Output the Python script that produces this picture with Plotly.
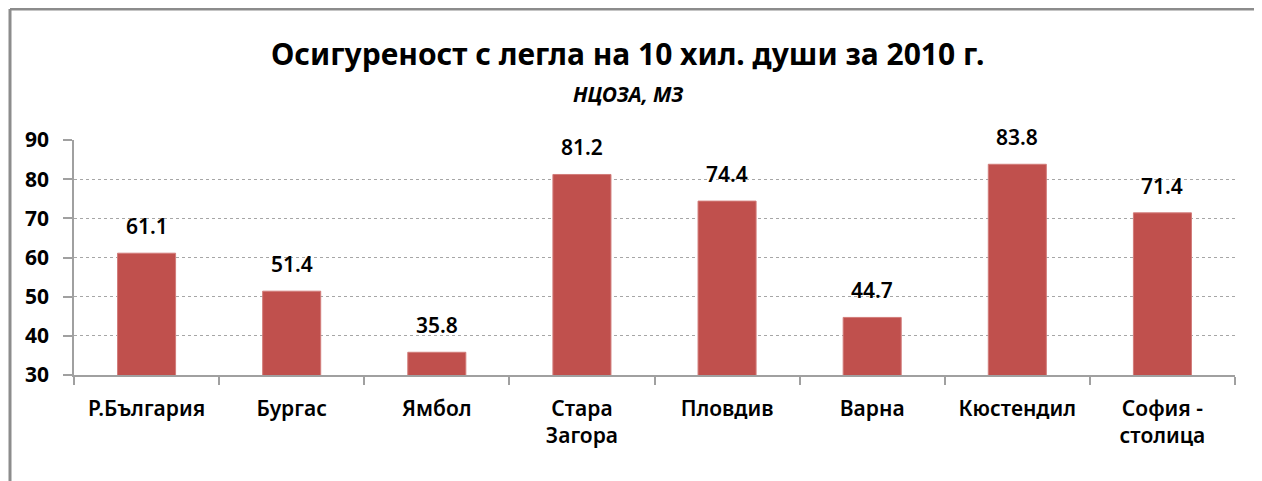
import plotly.graph_objects as go

categories = ["Р.България", "Бургас", "Ямбол", "Стара<br>Загора", "Пловдив", "Варна", "Кюстендил", "София -<br>столица"]
values = [61.1, 51.4, 35.8, 81.2, 74.4, 44.7, 83.8, 71.4]
y_ticks = [30, 40, 50, 60, 70, 80, 90]
title_text = "Осигуреност с легла на 10 хил. души за 2010 г."
subtitle_text = "НЦОЗА, МЗ"

# page is rendered with an 8px body margin; positions below are in page px
OFF = 8
W, H = 1262, 481
L, R, T, B = 74 - OFF, 27 + OFF, 140 - OFF, 106 + OFF
pw, ph = W - L - R, H - T - B

FONT = "Noto Sans"

fig = go.Figure(go.Bar(
    x=categories, y=values,
    marker=dict(color="#C0504D", line=dict(color="#D27C7A", width=1)),
    width=0.4,
    cliponaxis=False,
))

fx = lambda px: (px - OFF - L) / pw
fy = lambda py: 1 - (py - OFF - T) / ph

annotations = [
    dict(text="<b>" + title_text + "</b>", xref="paper", yref="paper", x=fx(627), y=fy(53),
         showarrow=False, xanchor="center", yanchor="middle",
         font=dict(family=FONT, size=30, color="#000000")),
    dict(text="<b><i>" + subtitle_text + "</i></b>", xref="paper", yref="paper", x=fx(628), y=fy(94),
         showarrow=False, xanchor="center", yanchor="middle",
         font=dict(family=FONT, size=21, color="#000000")),
]
for c, v in zip(categories, values):
    annotations.append(dict(
        text=f"{v:.1f}", x=c, y=v, xref="x", yref="y", showarrow=False,
        xanchor="center", yanchor="middle", yshift=27,
        font=dict(family=FONT, size=21, color="#000000", weight=600),
    ))

fig.update_layout(
    width=W, height=H,
    margin=dict(l=L, r=R, t=T, b=B),
    paper_bgcolor="white", plot_bgcolor="white",
    showlegend=False,
    shapes=[
        dict(type="line", xref="paper", yref="paper", x0=fx(10), x1=fx(10), y0=fy(H + 30), y1=fy(9),
             line=dict(color="#8C8C8C", width=3)),
        dict(type="line", xref="paper", yref="paper", x0=fx(10), x1=fx(W + 30), y0=fy(9), y1=fy(9),
             line=dict(color="#8C8C8C", width=3)),
    ],
    annotations=annotations,
)

fig.update_xaxes(
    type="category",
    showline=True, linecolor="#A0A0A0", linewidth=1.5,
    ticks="outside", tickson="boundaries", ticklen=8, tickcolor="#A0A0A0", tickwidth=1.5,
    tickfont=dict(family=FONT, size=21, color="#000000", weight=600),
    ticklabelstandoff=14,
    showgrid=False,
)
fig.update_yaxes(
    range=[30, 90],
    tickvals=y_ticks,
    showline=True, linecolor="#A0A0A0", linewidth=1.5,
    ticks="outside", ticklen=9, tickcolor="#A0A0A0", tickwidth=1.5,
    tickfont=dict(family=FONT, size=21, color="#000000", weight="bold"),
    ticklabelstandoff=10,
    showgrid=True, gridcolor="#A6A6A6", griddash="dot", gridwidth=1,
    zeroline=False,
)

fig.write_html("out.html")
